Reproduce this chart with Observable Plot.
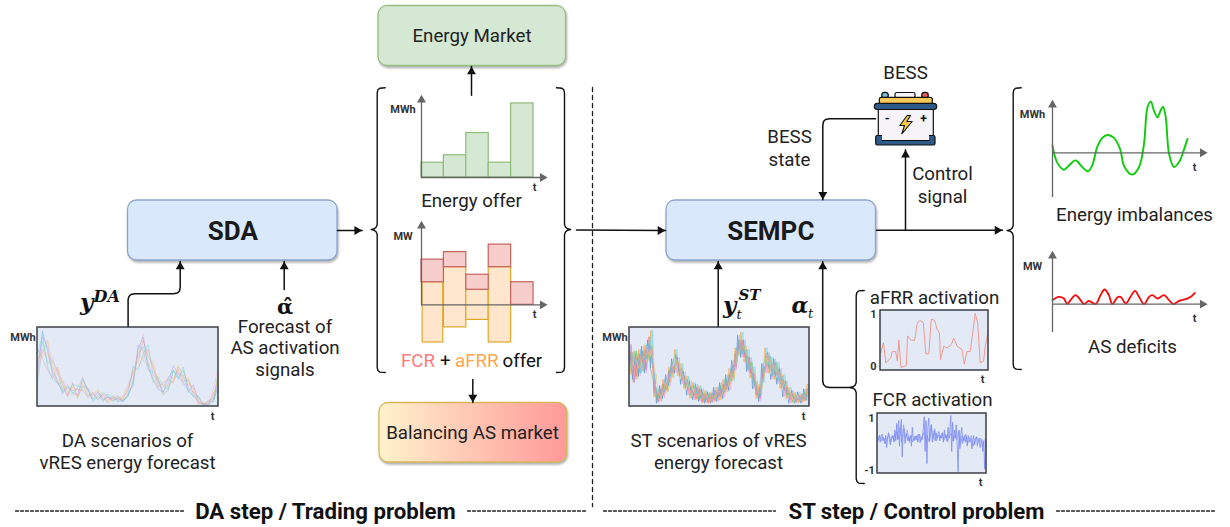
<!DOCTYPE html>
<html><head><meta charset="utf-8">
<script src="https://cdn.jsdelivr.net/npm/d3@7"></script>
<script src="https://cdn.jsdelivr.net/npm/@observablehq/plot@0.6"></script>
<style>
html,body{margin:0;padding:0;background:#fff}
#stage{position:relative;width:1230px;height:527px;overflow:hidden;font-family:Roboto,sans-serif}
#stage svg{background:transparent;overflow:visible}
</style></head><body><div id="stage"></div>
<script>
// ---------- chart values ----------
const energyOffer = [1, 1.5, 3, 1, 5];
const fcrSize = [3, 2, 2, 3, 3];
const afrrUp = [3, 5, 2, 5, 0];
const afrrDown = [5, 3, 2, 5, 0];

const daScenarios = [
 [42,96,70,40,30,18,24,18,14,34,22,10,18,8,12,8,10,6,14,30,72,88,50,34,22,18,36,46,38,30,20,14,6,2,4,8,26],
 [60,68,84,52,28,32,14,26,20,22,14,16,10,14,8,12,6,12,24,44,50,62,72,48,36,14,24,34,50,44,30,24,10,4,2,14,38],
 [28,82,54,58,44,20,28,16,24,36,20,8,12,18,14,6,12,8,12,32,66,76,54,30,38,26,22,44,36,46,24,18,12,2,6,6,44],
 [74,60,46,36,50,28,12,30,12,26,24,14,20,10,6,14,8,10,20,48,56,84,64,52,24,30,34,30,48,32,34,16,4,4,2,18,20],
 [50,88,76,44,34,16,26,20,22,20,12,18,8,16,12,10,14,6,16,26,78,70,46,44,34,18,28,52,40,40,18,28,8,1,8,10,34],
 [36,72,58,62,40,34,18,14,16,38,16,10,16,12,10,8,10,14,28,40,62,92,60,36,26,24,38,36,44,28,28,22,6,3,4,22,52],
 [66,92,50,34,30,22,16,28,26,24,22,6,14,6,16,12,6,8,14,52,46,66,78,40,32,16,20,46,34,50,22,12,14,2,2,6,28],
 [54,64,68,48,46,24,22,24,10,30,10,16,22,14,4,10,12,10,22,34,70,58,52,58,28,28,26,32,52,36,36,20,2,5,6,12,40]
];
const stScenarios = [
 [74,34,66,38,76,42,84,48,32,4,26,10,40,26,60,42,62,28,44,14,32,8,28,6,22,4,18,4,24,6,30,10,40,20,58,46,90,62,84,44,62,22,32,6,54,42,68,34,60,28,48,12,32,4,20,4,18,4,22,8],
 [40,68,34,72,46,78,58,96,12,22,6,34,18,50,36,72,38,54,22,38,10,30,8,26,4,20,6,18,6,24,8,34,18,48,32,74,64,94,56,72,36,50,10,28,30,74,42,62,34,56,22,40,10,24,4,18,4,16,6,28],
 [66,58,70,52,68,48,62,76,40,8,20,14,34,30,54,66,44,48,26,34,14,26,20,8,18,6,14,8,16,10,26,16,34,28,50,54,82,70,76,52,54,30,26,12,46,64,48,56,40,50,28,34,14,18,6,14,8,6,18,12],
 [56,50,38,66,56,70,76,64,18,16,10,28,22,46,42,52,56,34,38,20,26,12,10,22,6,16,4,16,8,18,12,28,22,40,38,66,68,84,62,64,42,42,14,22,34,50,60,40,52,36,40,20,26,8,16,6,14,12,8,22],
 [78,30,60,54,70,46,78,68,28,6,22,18,30,44,44,64,46,44,28,30,24,14,24,12,16,8,12,6,20,12,22,18,30,36,52,50,84,74,66,62,46,34,24,10,48,54,50,52,38,46,36,22,18,14,12,8,10,8,14,18],
 [44,62,52,64,44,74,66,72,14,18,12,26,36,34,56,48,52,36,36,22,16,22,12,18,10,12,8,14,10,20,14,26,24,30,40,70,70,80,74,50,50,38,16,24,36,62,56,44,50,38,30,30,22,10,8,12,6,14,10,14],
 [68,52,62,42,60,60,88,54,24,10,18,20,26,42,50,54,42,42,34,26,18,18,18,10,14,10,16,10,12,14,20,20,32,32,46,58,78,66,72,46,56,26,20,14,42,58,64,38,56,32,38,24,16,16,10,10,12,10,12,20],
 [52,70,48,58,64,56,72,62,34,14,14,30,20,36,46,60,48,38,30,28,22,16,14,16,12,14,6,12,14,8,16,24,26,42,36,64,72,76,68,60,44,40,18,18,38,66,52,50,44,44,32,28,24,12,14,6,8,8,16,16]
];
const afrrT = [0.3,2.8,4.9,9.5,11,14,15.6,17,19,21.8,24,25,28,31.6,34,36.5,39.6,42,44.8,47,50,52.5,54.6,55.5,58.6,61.7,65.6,67.8,71,75.5,77.6,80,83,85,87.7,90,92.3,95.4,97,100];
const afrrV = [.29,.46,.11,.2,.31,.31,.14,.51,.03,.05,.07,.58,.51,.5,.8,.85,.81,.27,.27,.87,.85,.69,.63,.17,.4,.37,.43,.54,.4,.34,.09,.31,.31,.57,.97,.8,.11,.14,.4,.69];
const fcrV = [.2,.15,.3,.05,.25,.35,.1,.2,0,.3,-.15,.2,.4,.1,-.05,.25,.2,.3,.05,.5,.1,
 .75,.15,.85,-.1,.6,.9,-.5,.4,.55,
 0,.2,.35,.1,.25,.05,.3,-.1,.6,.2,.1,.28,.15,.3,.05,.2,.35,.1,.25,.15,.55,
 1.0,-.3,.85,-.75,.6,.95,.1,.4,
 .7,.05,.3,.5,.1,.4,.2,.35,.45,.1,.3,.2,.4,.05,.5,.2,.3,.1,.6,.2,.5,
 1.05,-.3,.8,.1,.5,.2,.7,-.05,-1.05,.5,
 -.2,.35,.6,0,.2,.3,.05,.25,-.1,.3,.15,.05,.2,-.2,.1,.3,-.05,.15,.25,-.1,.1,.2,-.15,.05,.15,-.3,.1,-.95,.1,-.1];
const fcrV2 = [.05,.3,.1,.25,0,.2,.35,.05,.3,.1,.45,.15,.6,.05,.7,.2,.5,.1,.3,.05,.25,.12,.35,.02,.22,.4,.1,.3,.05,.7,.15,.55,.1,.3,.2,.4,.12,.35,.05,.25,.38,.08,.3,.15,.45,-.05,.3,.1,.35,0,.2,.3,-.1,.15,.25,.05,.2,-.12,.12,.2];
const imbalanceT = [0,3,7.6,11,15.4,19.8,23.6,26.5,29.8,33.2,36.5,41,45,48,53.2,57.7,61,63.3,65.5,67.7,70,72,73.7,75.5,77.7,81,84.4,87.8,90];
const imbalanceV = [2.2,-2.8,-5.1,-3.8,-2.3,-4.3,-5.6,-3.8,1.7,4.5,5.4,4.5,1.2,-4.3,-6.6,-4.3,2.7,13.7,15.5,12.7,10.7,12.7,13.9,10.7,-.3,-4.3,-2.8,1.2,4.2];
const deficitT = [0,4.2,7.6,9.8,12,15.4,18.7,21,24.3,28.7,32,34.7,37.6,39.9,43.2,45.4,48.8,52,55,57.7,61,64.4,66.6,70,74.4,77.7,80.6,84.4,88.9,92.2,94.9];
const deficitV = [1.2,2.2,1.7,0,1.2,2.7,1.2,0,1,0,2.7,4.4,2.7,0,2,2.2,.2,2.2,4,2.2,0,2.2,2.7,1.7,2.7,1.2,0,1,1.5,2.2,3.4];

// ---------- palette ----------
const tab = ["#5b9bd5","#ffa94d","#5fd38d","#ff7b7b","#b084f0","#ff9ad5","#4dd0e1","#e0c95a"];
const AXIS = "#666666", FRAME = "#3a3f44", PANEL = "#e3eaf5";

// ---------- layer helpers ----------
const stage = document.getElementById("stage");
function layer(left, top, width, height, x, y, marks) {
  const p = Plot.plot({width, height, margin: 0,
    x: {domain: x, range: [0, width], axis: null},
    y: {domain: y, range: [0, height], axis: null},
    style: {position: "absolute", left: left + "px", top: top + "px", fontFamily: "Roboto", background: "transparent", overflow: "visible"},
    marks});
  stage.appendChild(p);
}
const series = (rows) => rows.flatMap((r, k) => r.map((v, i) => ({t: i + k / rows.length, v, k, i})));
const pair = (ts, vs) => ts.map((t, i) => ({t, v: vs[i]}));
const head = (x, y, rotate, fill = AXIS) => Plot.dot([{x, y}], {x: "x", y: "y", symbol: "triangle", r: 3.3, fill, stroke: "none", rotate});

// ---------- diagram layer ----------
const T = (rows, o = {}) => Plot.text(rows, {x: d => d[1], y: d => d[2], text: d => d[0],
  fontSize: 18.7, fill: "#222", lineAnchor: "middle", textAnchor: "middle", ...o});
const box = (x1, y1, x2, y2, o) => Plot.rect([{x1, y1, x2, y2}], {x1: "x1", y1: "y1", x2: "x2", y2: "y2", rx: 9, strokeWidth: 1.3,
  imageFilter: "drop-shadow(1.5px 2px 1px rgba(0,0,0,.3))", ...o});
const plain = (x1, y1, x2, y2, fill, o = {}) => Plot.rect([{x1, y1, x2, y2}], {x1: "x1", y1: "y1", x2: "x2", y2: "y2", fill, stroke: "#111", strokeWidth: 1.2, ...o});

function arrowPath(pts, arrow = true) {
  const m = [Plot.line(pts, {x: d => d[0], y: d => d[1], stroke: "#111", strokeWidth: 1.5, curve: "linear"})];
  if (arrow) {
    const [a, b] = pts.slice(-2);
    const L = Math.hypot(b[0] - a[0], b[1] - a[1]), ux = (b[0] - a[0]) / L, uy = (b[1] - a[1]) / L;
    const rot = Math.atan2(ux, -uy) * 180 / Math.PI;
    m.push(head(b[0] - 5.2 * ux, b[1] - 5.2 * uy, rot, "#111"));
  }
  return m;
}
function brace(x, top, mid, bottom, dir) {
  const s = -dir;
  const pts = [[x + 8 * s, top], [x + 2.5 * s, top + .4], [x + .7 * s, top + 2], [x, top + 5],
    [x, mid - 5], [x - 1 * s, mid - 2.4], [x - 3 * s, mid - .7], [x - 6 * s, mid],
    [x - 3 * s, mid + .7], [x - 1 * s, mid + 2.4], [x, mid + 5],
    [x, bottom - 5], [x + .7 * s, bottom - 2], [x + 2.5 * s, bottom - .4], [x + 8 * s, bottom]];
  return Plot.line(pts, {x: d => d[0], y: d => d[1], stroke: "#111", strokeWidth: 1.4});
}
const defs = () => {
  const s = d3.create("svg:defs");
  const g = s.append("linearGradient").attr("id", "bal");
  g.append("stop").attr("offset", "0%").attr("stop-color", "#fff2cc");
  g.append("stop").attr("offset", "100%").attr("stop-color", "#ff9999");
  return s.node();
};
const dashLine = (pts, dash) => Plot.line(pts, {x: d => d[0], y: d => d[1], stroke: "#222", strokeWidth: 1.3, strokeDasharray: dash});
const MATH = {fontWeight: 700, fontStyle: "italic", fontFamily: "DejaVu Serif", textAnchor: "start", lineAnchor: "bottom", fill: "#111"};

const batteryBolt = [[906.7,115],[899.3,125],[904,125],[901.3,133.3],[911.7,121],[906.3,121],[910,115],[906.7,115]];

layer(0, 0, 1230, 527, [0, 1230], [0, 527], [
  defs,
  box(127.5, 200, 337, 260, {fill: "#dae8fc", stroke: "#8aa6cf"}),
  box(666, 200, 875.5, 260, {fill: "#dae8fc", stroke: "#8aa6cf"}),
  box(378, 5.5, 565.5, 65.5, {fill: "#d5e8d4", stroke: "#97bf82"}),
  box(379, 402.5, 566.5, 462, {fill: "url(#bal)", stroke: "#d6b656"}),

  ...arrowPath([[127.6,327],[127.6,299],[128.4,296],[130.5,294],[134,293.3],[173,293.3],[176.8,292.6],[179,290.5],[179.7,287],[179.7,261]]),
  ...arrowPath([[283.7,289],[283.7,261]]),
  ...arrowPath([[337,230],[361.7,230]]),
  ...arrowPath([[471,94.7],[471,66]]),
  ...arrowPath([[472.3,379],[472.3,402]]),
  ...arrowPath([[576,229.5],[665,230]]),
  ...arrowPath([[717.7,327],[717.7,261]]),
  ...arrowPath([[852,387],[829,387],[825.2,386.2],[823,384],[822.2,380.5],[822.2,261]]),
  ...arrowPath([[876,229.7],[1002,229.7]]),
  ...arrowPath([[905,229.7],[905,149.3]]),
  ...arrowPath([[875,118.3],[829,118.3],[825,119],[823,121],[822.3,125],[822.3,199.3]]),

  brace(376.7, 87.3, 229, 372, -1),
  brace(564, 87.3, 229, 372, 1),
  brace(855.7, 290, 387, 483, -1),
  brace(1012.7, 87.3, 230, 369, -1),

  dashLine([[592,87],[592,506]], "4,4"),
  dashLine([[15,510.5],[184,510.5]], "3,2"),
  dashLine([[467,510.5],[586,510.5]], "3,2"),
  dashLine([[603,510.5],[775,510.5]], "3,2"),
  dashLine([[1056,510.5],[1216,510.5]], "3,2"),

  // battery icon
  plain(881.7, 92.3, 888.3, 98, "#7ab8e0", {rx: 3}),
  plain(921.7, 92.3, 928.3, 98, "#e8575a", {rx: 3}),
  plain(895, 92.5, 915, 98, "#f6f4f8", {rx: 2}),
  plain(879.3, 97.3, 932.3, 104, "#f5c85a", {rx: 2}),
  plain(878.3, 108, 933.3, 138, "#f6f4f8"),
  plain(875.7, 135.5, 935, 145, "#2d5a87", {rx: 1.5}),
  plain(882, 108, 929, 140, "#f6f4f8", {stroke: "none"}),
  Plot.line([[882,140],[929,140]], {x: d => d[0], y: d => d[1], stroke: "#111", strokeWidth: 1.2}),
  plain(874.3, 103.3, 936.7, 109.5, "#2d5a87", {rx: 3}),
  Plot.line(batteryBolt, {x: d => d[0], y: d => d[1], stroke: "#111", strokeWidth: 1.1, fill: "#f7c948"}),
  T([["-", 886.7, 118.5], ["+", 923, 118.5]], {fontSize: 12, fontWeight: 700, fill: "#111"}),

  // box titles
  T([["SDA", 232.3, 231], ["SEMPC", 770.3, 231]], {fontSize: 26, fontWeight: 700, fill: "#1a1a1a"}),
  T([["Energy Market", 471.5, 36], ["Balancing AS market", 472, 432.5],
     ["Energy offer", 471, 200.7],
     ["Forecast of", 284.5, 326.5], ["AS activation", 284.5, 348], ["signals", 284.5, 370],
     ["DA scenarios of", 127, 440.7], ["vRES energy forecast", 127, 463],
     ["ST scenarios of vRES", 718, 440.7], ["energy forecast", 718, 463],
     ["aFRR activation", 934, 298], ["FCR activation", 932, 399.3],
     ["BESS", 905, 73], ["BESS", 789, 136.7], ["state", 789, 160],
     ["Control", 942, 173.3], ["signal", 942, 196.7],
     ["Energy imbalances", 1134, 215], ["AS deficits", 1132, 346.7]]),
  T([["FCR", 400.5, 360.7]], {textAnchor: "start", fill: "#ff7a7a"}),
  T([["+", 439.5, 360.7]], {textAnchor: "start", fill: "#111"}),
  T([["aFRR", 454.5, 360.7]], {textAnchor: "start", fill: "#ffa64d"}),
  T([["offer", 502, 360.7]], {textAnchor: "start", fill: "#111"}),
  T([["DA step / Trading problem", 325, 511], ["ST step / Control problem", 916, 511]], {fontSize: 22.2, fontWeight: 700, fill: "#111"}),

  // small axis labels
  T([["MWh", 22.5, 337], ["MWh", 402.5, 108.7], ["MW", 402.5, 235.7], ["MWh", 614.5, 337], ["MWh", 1032, 114], ["MW", 1032, 265.7],
     ["t", 212, 416], ["t", 534, 187], ["t", 534, 314], ["t", 803, 416], ["t", 982, 379], ["t", 980, 482], ["t", 1194, 167], ["t", 1194, 318],
     ["1", 873, 314], ["0", 873, 365.7], ["1", 871, 417.7], ["-1", 869, 470]],
    {fontSize: 11, fontWeight: 700, fill: "#333"}),

  // math labels
  T([["y", 79.5, 309]], {...MATH, fontSize: 23}),
  T([["DA", 93, 301.5]], {...MATH, fontSize: 16}),
  T([["α\u0302", 284.5, 313]], {...MATH, fontSize: 21, fontStyle: "normal", textAnchor: "middle"}),
  T([["y", 722.5, 312]], {...MATH, fontSize: 23}),
  T([["ST", 738, 299.5]], {...MATH, fontSize: 15}),
  T([["t", 736, 318]], {...MATH, fontSize: 13, fontWeight: 400}),
  T([["α", 791, 312]], {...MATH, fontSize: 22}),
  T([["t", 807.5, 317]], {...MATH, fontSize: 13, fontWeight: 400})
]);

// ---------- scenario and activation panels ----------
function panel(left, top, w, h, xd, yd, marks) {
  layer(left, top, w, h, xd, yd, [
    Plot.rect([0], {x1: xd[0], x2: xd[1], y1: yd[0], y2: yd[1], fill: PANEL}),
    ...marks,
    Plot.rect([0], {x1: xd[0], x2: xd[1], y1: yd[0], y2: yd[1], fill: "none", stroke: FRAME, strokeWidth: 1.5})
  ]);
}
panel(37, 327, 181, 79, [0, 36], [100, 0], [
  Plot.line(series(daScenarios), {x: d => d.t - d.k / 8, y: "v", z: "k", stroke: d => tab[d.k], strokeOpacity: .42, strokeWidth: .8})
]);
const stRows = series(stScenarios);
panel(629, 327, 180, 79, [0, 59.9], [100, 0], [
  Plot.ruleX(stRows, {x: "t", y1: "v", y2: d => stScenarios[(d.k + 3) % 8][d.i], stroke: d => tab[d.k], strokeOpacity: .75, strokeWidth: 1}),
  Plot.line(stRows, {x: "t", y: "v", z: "k", stroke: d => tab[d.k], strokeOpacity: .55, strokeWidth: .9})
]);
panel(880, 310, 108, 60, [0, 100], [1.02, -.02], [
  Plot.line(pair(afrrT, afrrV), {x: "t", y: "v", stroke: "#ef9a92", strokeWidth: 1})
]);
panel(877, 413, 109, 60, [0, 119], [1.12, -1.12], [
  Plot.line(fcrV.map((v, t) => ({t, v})), {x: "t", y: "v", stroke: "#7d8cf2", strokeWidth: .8}),
  Plot.line(fcrV2.map((v, i) => ({t: i * 2 + .5, v})), {x: "t", y: "v", stroke: "#7d8cf2", strokeWidth: .8, strokeOpacity: .8})
]);

// ---------- offer charts ----------
const axes = (xEnd, yTop, yBottom) => [
  Plot.line([[0, yTop], [0, yBottom]], {x: d => d[0], y: d => d[1], stroke: AXIS, strokeWidth: 1.3}),
  Plot.line([[0, 0], [xEnd, 0]], {x: d => d[0], y: d => d[1], stroke: AXIS, strokeWidth: 1.3}),
  head(0, yTop - (yTop - yBottom) * .03, 0),
  head(xEnd, 0, 90)
];
const idx = energyOffer.map((_, i) => i);
layer(421, 97, 121, 80, [0, 5.4], [5.4, 0], [
  Plot.rect(idx, {x1: i => i, x2: i => i + 1, y1: 0, y2: i => energyOffer[i], fill: "#d5e8d4", stroke: "#8fbb78", strokeWidth: 1.2}),
  ...axes(5.4, 5.4, 0)
]);
layer(421, 223, 121, 122, [0, 5.4], [10.8, -5.4], [
  Plot.rect(idx, {x1: i => i + (i === 0 ? .05 : 0), x2: i => i + (i === 0 ? .97 : 1), y1: i => -afrrDown[i], y2: i => afrrUp[i], fill: "#ffe6cc", stroke: "#e0a72a", strokeWidth: 1.2, filter: i => afrrUp[i] > 0}),
  Plot.rect(idx, {x1: i => i, x2: i => i + 1, y1: i => afrrUp[i], y2: i => afrrUp[i] + fcrSize[i], fill: "#f8cecc", stroke: "#c4625e", strokeWidth: 1.2}),
  ...axes(5.4, 10.8, 0)
]);

// ---------- outcome charts ----------
layer(1052, 102, 150, 95, [0, 100], [15.2, -13.5], [
  Plot.line(pair(imbalanceT, imbalanceV), {x: "t", y: "v", stroke: "#0ccc0c", strokeWidth: 1.9, curve: "catmull-rom"}),
  Plot.ruleY([0], {stroke: AXIS, strokeWidth: 1.3}),
  Plot.ruleX([0], {stroke: AXIS, strokeWidth: 1.3}),
  head(0, 14.5, 0), head(100, 0, 90)
]);
layer(1052, 253, 150, 79, [0, 100], [15.2, -8.5], [
  Plot.line(pair(deficitT, deficitV), {x: "t", y: "v", stroke: "#f60808", strokeWidth: 1.8, curve: "catmull-rom"}),
  Plot.ruleY([0], {stroke: AXIS, strokeWidth: 1.3}),
  Plot.ruleX([0], {stroke: AXIS, strokeWidth: 1.3}),
  head(0, 14.5, 0), head(100, 0, 90)
]);
</script></body></html>
